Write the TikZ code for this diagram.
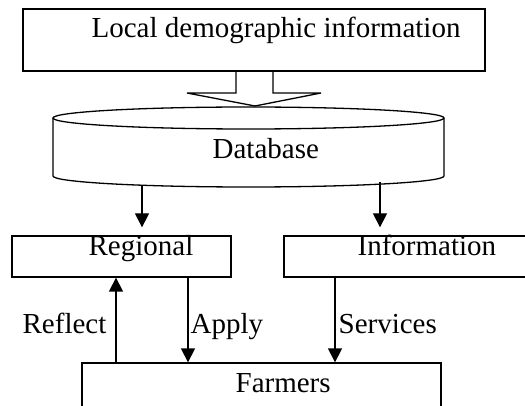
\documentclass[tikz,border=0pt]{standalone}
\usepackage{fontspec}
\setmainfont{Liberation Serif}
\usetikzlibrary{arrows.meta}
\begin{document}
\begin{tikzpicture}[x=1pt,y=-1pt,line width=1.3pt,
  boxst/.style={draw,rectangle,inner sep=0pt},
  lbl/.style={inner sep=0pt,anchor=base west,font=\fontsize{29}{34}\selectfont},
  arr/.style={-{Triangle[width=14pt,length=14pt]}}]
\useasboundingbox (0,0) rectangle (525,406);
\clip (0,0) rectangle (525,406);
% boxes
\node[boxst,minimum width=462pt,minimum height=62pt] (src) at (254,40) {};
\node[boxst,minimum width=219pt,minimum height=41pt] (reg) at (121.5,256.5) {};
\node[boxst,minimum width=256pt,minimum height=41pt] (inf) at (412,256.5) {};
\node[boxst,minimum width=359pt,minimum height=57pt] (farm) at (261.5,391.5) {};
% database cylinder
\node[inner sep=0pt,minimum width=391pt,minimum height=58pt] (db) at (248.5,147) {};
\draw (248.5,118) ellipse [x radius=195.5pt,y radius=11pt];
\draw (53,118) -- (53,176) arc [start angle=180,end angle=360,x radius=195.5pt,y radius=11pt] -- (444,118);
% texts
\node[lbl] (srct) at (91,38) {Local demographic information};
\node[lbl] (dbt) at (212,159) {Database};
\node[lbl] (regt) at (88,256) {Regional};
\node[lbl] (inft) at (357,256) {Information};
\node[lbl] (farmt) at (235,392) {Farmers};
\node[lbl] (refl) at (22,333) {Reflect};
\node[lbl] (appl) at (190,333) {Apply};
\node[lbl] (serv) at (338,333) {Services};
% callout arrow from source into database
\draw[line join=miter] (src.south -| 236,0) -- (236,93) -- (187,93) -- (255,106) -- (321,93) -- (273,93) -- (src.south -| 273,0);
% helper coordinates
\coordinate (dbL) at (142,186);
\coordinate (dbR) at (380,182);
\coordinate (xRefl) at (116,0);
\coordinate (xAppl) at (188,0);
\coordinate (xServ) at (335,0);
% connectors
\draw[arr,shorten >=8pt] (dbL) -- (dbL |- reg.north);
\draw[arr,shorten >=8pt] (dbR) -- (dbR |- inf.north);
\draw[arr] (farm.north -| xRefl) -- (reg.south -| xRefl);
\draw[arr] (reg.south -| xAppl) -- (farm.north -| xAppl);
\draw[arr] (inf.south -| xServ) -- (farm.north -| xServ);
\end{tikzpicture}
\end{document}
